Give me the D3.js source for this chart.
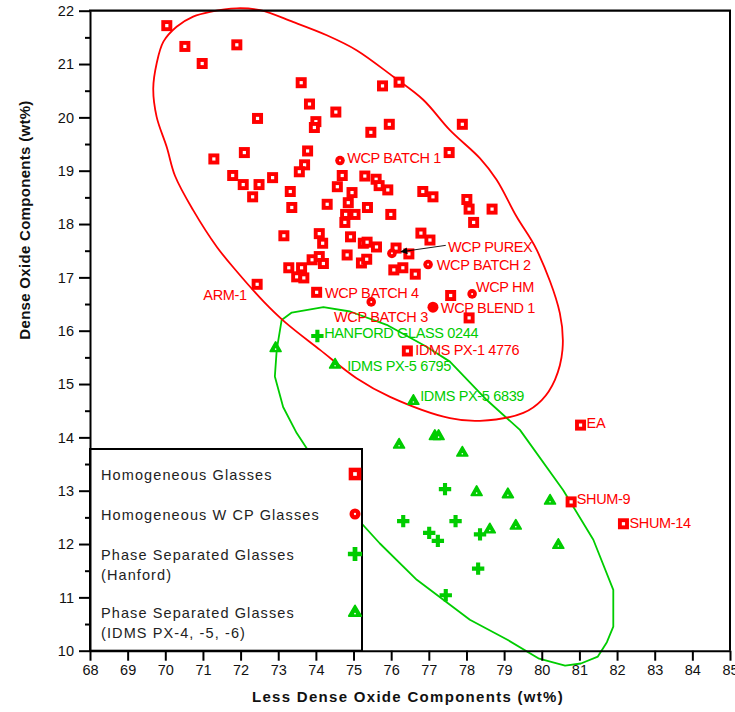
<!DOCTYPE html>
<html><head><meta charset="utf-8">
<script src="https://cdn.jsdelivr.net/npm/d3@7"></script>
<style>body{margin:0;background:#fff} svg{display:block}</style>
</head><body>
<svg id="chart" width="735" height="712"></svg>
<script>
// ---------- data ----------
const homogeneousX = [70.04,70.52,70.98,71.90,73.61,75.77,76.21,73.83,74.53,74.00,73.96,72.45,75.95,75.46,77.89,77.54,72.10,71.29,73.78,73.70,73.56,71.79,72.85,74.70,75.30,75.60,75.68,75.91,72.07,72.49,72.32,73.32,73.36,74.57,74.96,74.86,74.30,75.37,75.99,74.79,75.04,74.77,76.84,77.11,78.01,78.07,78.68,78.19,76.79,77.03,73.15,74.09,74.18,74.92,75.26,75.36,75.61,76.13,76.47,74.83,73.90,74.09,74.20,75.21,75.35,76.07,76.31,76.64,73.28,73.62,73.49,73.68,72.44,74.02,77.58,78.07,76.43,81.03,80.78,82.17];
const homogeneousY = [21.72,21.33,21.01,21.36,20.65,20.59,20.66,20.25,20.10,19.92,19.81,19.98,19.87,19.72,19.87,19.34,19.34,19.22,19.37,19.11,18.98,18.91,18.87,18.91,18.90,18.84,18.72,18.64,18.74,18.74,18.51,18.61,18.31,18.70,18.59,18.40,18.37,18.31,18.18,18.18,18.18,18.03,18.61,18.51,18.46,18.28,18.28,18.03,17.83,17.70,17.78,17.82,17.64,17.76,17.64,17.66,17.57,17.55,17.44,17.42,17.33,17.39,17.26,17.27,17.34,17.14,17.18,17.06,17.18,17.18,17.01,16.99,16.87,16.72,16.66,16.24,15.62,14.23,12.79,12.38];

const wcpNames = ["WCP BATCH 1","WCP PUREX","WCP BATCH 2","WCP BATCH 3","WCP HM","WCP BLEND 1"];
const wcpX = [74.64,76.02,76.98,75.47,78.15,77.11];
const wcpY = [19.19,17.45,17.24,16.54,16.69,16.44];

const hanfordX = [74.04,77.43,76.32,77.71,77.01,77.24,78.36,78.31,77.45];
const hanfordY = [15.90,13.03,12.43,12.43,12.21,12.06,12.18,11.54,11.04];

const idmsX = [72.93,74.51,76.59,76.21,77.16,77.26,77.89,78.27,79.10,80.22,78.62,79.31,80.44];
const idmsY = [15.68,15.37,14.69,13.87,14.03,14.03,13.72,12.98,12.94,12.82,12.28,12.35,11.99];

const redEllipseX = [71.90,72.52,73.39,74.29,75.08,76.06,76.85,77.56,78.36,78.80,79.33,79.87,80.48,80.55,80.35,80.00,79.51,78.36,77.56,75.97,75.08,74.11,73.18,72.62,71.90,71.37,70.74,70.26,70.04,69.77,69.68,69.77,69.95,70.30,70.74,71.19];
const redEllipseY = [22.045,22.01,21.79,21.54,21.26,20.76,20.33,19.76,19.23,18.83,18.14,17.51,16.33,15.64,15.08,14.70,14.46,14.31,14.36,14.76,15.11,15.64,16.16,16.54,17.11,17.57,18.26,18.90,19.44,20.01,20.54,21.01,21.42,21.70,21.89,21.98];

const greenEllipseX = [72.96,73.09,73.36,74.20,74.91,75.88,76.94,77.56,78.54,79.42,80.57,81.37,81.90,81.90,81.73,81.49,81.04,80.62,79.93,79.10,78.09,76.68,75.70,74.77,74.11,73.76,73.49,73.13,72.91];
const greenEllipseY = [15.64,16.20,16.34,16.44,16.36,16.11,15.70,15.42,14.70,14.14,13.01,12.08,11.14,10.45,10.16,9.89,9.76,9.72,9.85,10.20,10.58,11.33,12.01,12.73,13.39,13.79,14.08,14.57,15.14];

const labelText = ["WCP BATCH 1","WCP PUREX","WCP BATCH 2","WCP HM","WCP BLEND 1","WCP BATCH 4","WCP BATCH 3","HANFORD GLASS 0244","IDMS PX-1 4776","IDMS PX-5 6795","IDMS PX-5 6839","ARM-1","EA","SHUM-9","SHUM-14"];
const labelX = [74.83,77.51,77.21,78.25,77.32,74.24,74.48,74.22,76.64,74.83,76.77,71.01,81.19,80.93,82.33];
const labelY = [19.24,17.57,17.23,16.82,16.43,16.71,16.26,15.97,15.64,15.34,14.78,16.67,14.27,12.84,12.40];
const labelGroup = ["red","red","red","red","red","red","red","green","red","green","green","red","red","red","red"];

const arrowFrom = [77.45,17.60];
const arrowTo = [76.26,17.48];

const legendLines = [["Homogeneous Glasses"],["Homogeneous W CP Glasses"],["Phase Separated Glasses","(Hanford)"],["Phase Separated Glasses","(IDMS PX-4, -5, -6)"]];
const legendMarkers = ["square","circle","cross","triangle"];

const xTicks = d3.range(68, 86, 1);
const yTicks = d3.range(10, 23, 1);
const yMinorTicks = d3.range(10.5, 22, 1);

const xTitle = "Less Dense Oxide Components (wt%)";
const yTitle = "Dense Oxide Components (wt%)";

// ---------- drawing ----------
const RED = "#ff0000", GREEN = "#00cc00";
const svg = d3.select("#chart");
const x = d3.scaleLinear().domain([68, 85]).range([90, 730]);
const y = d3.scaleLinear().domain([10, 22]).range([650.7, 10.7]);
const font = "'Liberation Sans', Arial, sans-serif";

// ellipses
const smooth = d3.line().x(d => x(d[0])).y(d => y(d[1])).curve(d3.curveCatmullRomClosed.alpha(0.5));
const straight = d3.line().x(d => x(d[0])).y(d => y(d[1])).curve(d3.curveLinearClosed);
svg.append("path").attr("d", straight(greenEllipseX.map((v, i) => [v, greenEllipseY[i]])))
  .attr("fill", "none").attr("stroke", GREEN).attr("stroke-width", 1.8).attr("stroke-linejoin", "round");
svg.append("path").attr("d", smooth(redEllipseX.map((v, i) => [v, redEllipseY[i]])))
  .attr("fill", "none").attr("stroke", RED).attr("stroke-width", 1.8);

function marker(g, type, s) {
  if (type === "square") {
    g.append("rect").attr("x", -5.5 * s).attr("y", -5.5 * s).attr("width", 11 * s).attr("height", 11 * s).attr("fill", RED);
    g.append("rect").attr("x", -1.6 * s).attr("y", -1.6 * s).attr("width", 3.2 * s).attr("height", 3.2 * s).attr("fill", "#fff");
  } else if (type === "circle") {
    g.append("path").attr("d", d3.symbol(d3.symbolCircle, 72 * s * s)()).attr("fill", RED);
    g.append("circle").attr("r", 1.0 * s).attr("fill", "#fff");
  } else if (type === "solidcircle") {
    g.append("path").attr("d", d3.symbol(d3.symbolCircle, 95 * s * s)()).attr("fill", RED);
  } else if (type === "cross") {
    g.append("path").attr("d", d3.symbol(d3.symbolCross, 85 * s * s)()).attr("fill", GREEN);
  } else if (type === "triangle") {
    g.append("path").attr("d", d3.symbol(d3.symbolTriangle, 50 * s * s)()).attr("fill", GREEN)
      .attr("stroke", GREEN).attr("stroke-width", 1.8).attr("stroke-linejoin", "round").attr("transform", "translate(0,0.5)");
    g.append("circle").attr("r", 0.8 * s).attr("cy", 1.4 * s).attr("fill", "#fff");
  }
}

// points
const pts = svg.append("g");
idmsX.forEach((v, i) => marker(pts.append("g").attr("transform", `translate(${x(v)},${y(idmsY[i])})`), "triangle", 1));
hanfordX.forEach((v, i) => marker(pts.append("g").attr("transform", `translate(${x(v)},${y(hanfordY[i])})`), "cross", 1));
homogeneousX.forEach((v, i) => marker(pts.append("g").attr("transform", `translate(${x(v)},${y(homogeneousY[i])})`), "square", 1));
wcpX.forEach((v, i) => marker(pts.append("g").attr("transform", `translate(${x(v)},${y(wcpY[i])})`),
  wcpNames[i] === "WCP BLEND 1" ? "solidcircle" : "circle", 1));

// labels
svg.append("g").selectAll("text").data(labelText).join("text")
  .attr("x", (d, i) => x(labelX[i])).attr("y", (d, i) => y(labelY[i]))
  .attr("dy", "0.36em")
  .attr("font-family", font).attr("font-size", 14.5).attr("letter-spacing", -0.35)
  .attr("fill", (d, i) => labelGroup[i] === "green" ? GREEN : RED)
  .text(d => d);

// arrow
svg.append("defs").append("marker").attr("id", "ah").attr("viewBox", "0 0 10 10")
  .attr("refX", 9).attr("refY", 5).attr("markerWidth", 9).attr("markerHeight", 7)
  .attr("markerUnits", "userSpaceOnUse").attr("orient", "auto")
  .append("path").attr("d", "M0,0 L10,5 L0,10 z").attr("fill", "#000");
svg.append("line").attr("x1", x(arrowFrom[0])).attr("y1", y(arrowFrom[1]))
  .attr("x2", x(arrowTo[0])).attr("y2", y(arrowTo[1]))
  .attr("stroke", "#000").attr("stroke-width", 0.9).attr("marker-end", "url(#ah)");

// legend
const lg = svg.append("g");
lg.append("rect").attr("x", 90).attr("y", 449).attr("width", 272).attr("height", 201.7)
  .attr("fill", "#fff").attr("stroke", "#000").attr("stroke-width", 2);
const legendRowY = [475, 515, 555, 613];
legendLines.forEach((lines, i) => {
  lines.forEach((t, j) => {
    lg.append("text").attr("x", 101).attr("y", legendRowY[i] + j * 20).attr("dy", "0.36em")
      .attr("font-family", font).attr("font-size", 14.5).attr("letter-spacing", 1.1)
      .attr("fill", "#222").text(t);
  });
  marker(lg.append("g").attr("transform", `translate(355,${legendRowY[i] - 1})`), legendMarkers[i], 1.15);
});

// axes
const ax = svg.append("g").attr("transform", "translate(0,650.7)")
  .call(d3.axisBottom(x).tickValues(xTicks).tickFormat(d3.format("d")).tickSize(10).tickSizeOuter(0));
const ay = svg.append("g").attr("transform", "translate(90,0)")
  .call(d3.axisLeft(y).tickValues(yTicks).tickFormat(d3.format("d")).tickSize(11).tickSizeOuter(0));
svg.append("g").attr("transform", "translate(90,0)")
  .call(d3.axisLeft(y).tickValues(yMinorTicks).tickFormat("").tickSize(5).tickSizeOuter(0))
  .select(".domain").remove();
svg.selectAll(".tick line").attr("stroke", "#000").attr("stroke-width", 2);
svg.selectAll(".domain").attr("stroke", "#000").attr("stroke-width", 2);
svg.selectAll(".tick text").attr("font-family", font).attr("font-size", 14.5).attr("fill", "#111");
ax.selectAll(".tick text").attr("dy", "0.71em").attr("y", 14);
ay.selectAll(".tick text").attr("x", -16);

// frame top & right
svg.append("line").attr("x1", 89).attr("x2", 731).attr("y1", y(22)).attr("y2", y(22)).attr("stroke", "#000").attr("stroke-width", 2.2);
svg.append("line").attr("x1", x(85)).attr("x2", x(85)).attr("y1", y(22)).attr("y2", y(10)).attr("stroke", "#000").attr("stroke-width", 2);

// titles
svg.append("text").attr("x", 408).attr("y", 697).attr("dy", "0.36em").attr("text-anchor", "middle")
  .attr("font-family", font).attr("font-weight", "bold").attr("font-size", 15).attr("letter-spacing", 1.3)
  .attr("fill", "#111").text(xTitle);
svg.append("text").attr("transform", "translate(25,220) rotate(-90)").attr("dy", "0.36em").attr("text-anchor", "middle")
  .attr("font-family", font).attr("font-weight", "bold").attr("font-size", 15).attr("letter-spacing", 0.3)
  .attr("fill", "#111").text(yTitle);
</script>
</body></html>
